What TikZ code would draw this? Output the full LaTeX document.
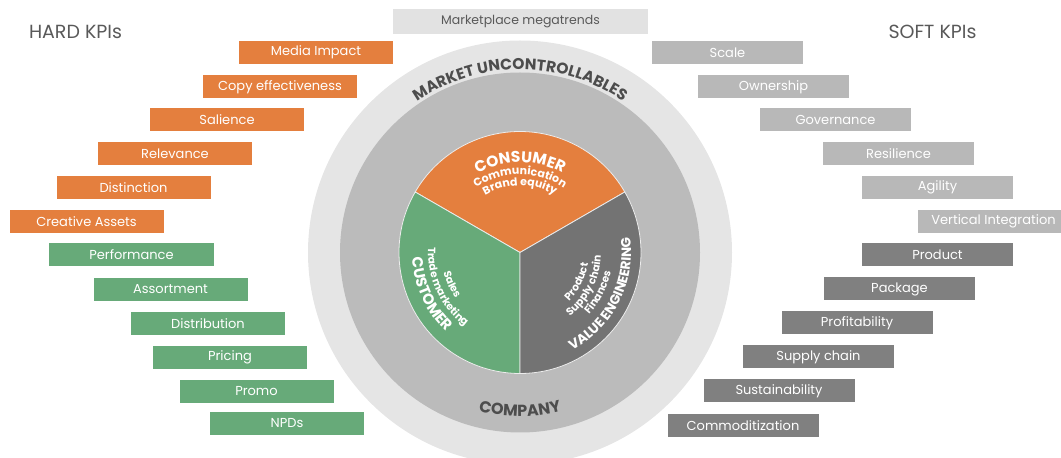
\documentclass[tikz,border=0pt]{standalone}
\usepackage{fontspec}
\setmainfont{Poppins}
\usetikzlibrary{decorations.text,calc}
\definecolor{kor}{RGB}{228,127,62}
\definecolor{kgr}{RGB}{103,170,121}
\definecolor{kdk}{RGB}{115,115,115}
\definecolor{klt}{RGB}{184,184,184}
\definecolor{kbx}{RGB}{128,128,128}
\definecolor{ringout}{RGB}{229,229,229}
\definecolor{ringmid}{RGB}{187,187,187}
\definecolor{megabox}{RGB}{226,226,226}
\definecolor{titlegray}{RGB}{89,89,89}
\definecolor{ringtext}{RGB}{77,77,77}
\begin{document}
\begin{tikzpicture}[x=1pt,y=1pt,
  kbox/.style={minimum width=154pt,minimum height=23pt,inner sep=0pt,text=white,font=\fontsize{13}{15}\selectfont},
  hard/.style={kbox,fill=kor},
  hardg/.style={kbox,fill=kgr},
  softl/.style={kbox,fill=klt,minimum width=151pt},
  softd/.style={kbox,fill=kbx,minimum width=151pt},
  ttl/.style={text=titlegray,font=\fontsize{19}{21}\selectfont,inner sep=0pt},
  sector/.style={draw=white!85!gray,line width=0.8pt},
  curved/.style={decorate,decoration={text along path,text align=center,text color=#1}}
]
\useasboundingbox (0,0) rectangle (1061,458);
\clip (0,0) rectangle (1061,458);

% titles
\node[ttl] (hard) at (75.5,426.5) {HARD KPIs};
\node[ttl] (soft) at (932.5,426) {SOFT KPIs};
\node[fill=megabox,minimum width=255pt,minimum height=25pt,inner sep=0pt,text=titlegray,font=\fontsize{12.5}{14}\selectfont] (mega) at (520.5,436.5) {Marketplace megatrends};

% circles
\coordinate (C) at (520,205.5);
\fill[ringout] (C) circle (212pt);
\fill[ringmid] (C) circle (180pt);
\path[sector,fill=kor] (C) -- ($(C)+(30:121pt)$) arc[start angle=30,end angle=150,radius=121pt] -- cycle;
\path[sector,fill=kgr] (C) -- ($(C)+(150:121pt)$) arc[start angle=150,end angle=270,radius=121pt] -- cycle;
\path[sector,fill=kdk] (C) -- ($(C)+(270:121pt)$) arc[start angle=270,end angle=390,radius=121pt] -- cycle;

% ring texts
\path[curved=ringtext,decoration={text={|\bfseries\fontsize{15.5}{16}\selectfont|MARKET UNCONTROLLABLES}}]
  ($(C)+(175:183pt)$) arc[start angle=175,end angle=5,radius=183pt];
\path[curved=ringtext,decoration={text={|\bfseries\fontsize{16}{17}\selectfont|COMPANY}}]
  ($(C)+(200:164pt)$) arc[start angle=200,end angle=340,radius=164pt];

% consumer
\path[curved=white,decoration={text={|\bfseries\fontsize{15.5}{16}\selectfont|CONSUMER}}]
  ($(C)+(160:90pt)$) arc[start angle=160,end angle=20,radius=90pt];
\path[curved=white,decoration={text={|\bfseries\fontsize{11}{12}\selectfont|Communication}}]
  ($(C)+(160:78pt)$) arc[start angle=160,end angle=20,radius=78pt];
\path[curved=white,decoration={text={|\bfseries\fontsize{11}{12}\selectfont|Brand equity}}]
  ($(C)+(160:67pt)$) arc[start angle=160,end angle=20,radius=67pt];

% customer
\path[curved=white,decoration={text={|\bfseries\fontsize{10.5}{12}\selectfont|Sales}}]
  ($(C)+(145:79pt)$) arc[start angle=145,end angle=265,radius=79pt];
\path[curved=white,decoration={text={|\bfseries\fontsize{10.5}{12}\selectfont|Trade marketing}}]
  ($(C)+(145:92pt)$) arc[start angle=145,end angle=265,radius=92pt];
\path[curved=white,decoration={text={|\bfseries\fontsize{15}{16}\selectfont|CUSTOMER}}]
  ($(C)+(145:108pt)$) arc[start angle=145,end angle=265,radius=108pt];

% value engineering
\path[curved=white,decoration={text={|\bfseries\fontsize{10.5}{12}\selectfont|Product}}]
  ($(C)+(273:69pt)$) arc[start angle=273,end angle=393,radius=69pt];
\path[curved=white,decoration={text={|\bfseries\fontsize{10.5}{12}\selectfont|Supply chain}}]
  ($(C)+(273:81pt)$) arc[start angle=273,end angle=393,radius=81pt];
\path[curved=white,decoration={text={|\bfseries\fontsize{10.5}{12}\selectfont|Finances}}]
  ($(C)+(273:93pt)$) arc[start angle=273,end angle=393,radius=93pt];
\path[curved=white,decoration={text={|\bfseries\fontsize{13.5}{15}\selectfont|VALUE ENGINEERING}}]
  ($(C)+(273:111pt)$) arc[start angle=273,end angle=393,radius=111pt];

% hard KPIs
\node[hard] (h1) at (316,405.5) {Media Impact};
\node[hard] (h2) at (280,371) {Copy effectiveness};
\node[hard] (h3) at (227,338.5) {Salience};
\node[hard] (h4) at (175,304.5) {Relevance};
\node[hard] (h5) at (133.5,270.5) {Distinction};
\node[hard] (h6) at (86.5,236.5) {Creative Assets};
\node[hardg,minimum width=165pt] (h7) at (131.5,203) {Performance};
\node[hardg] (h8) at (170.5,168.5) {Assortment};
\node[hardg] (h9) at (208,134.5) {Distribution};
\node[hardg] (h10) at (230,100.5) {Pricing};
\node[hardg] (h11) at (256.5,66.5) {Promo};
\node[hardg] (h12) at (287,34.5) {NPDs};

% soft KPIs
\node[softl] (s1) at (727.5,405.5) {Scale};
\node[softl] (s2) at (773.5,371) {Ownership};
\node[softl] (s3) at (835.5,338.5) {Governance};
\node[softl] (s4) at (898.5,304.5) {Resilience};
\node[softl] (s5) at (937.5,270.5) {Agility};
\node[softl] (s6) at (993.5,236.5) {Vertical Integration};
\node[softd] (s7) at (937.5,203.5) {Product};
\node[softd] (s8) at (899.5,169) {Package};
\node[softd] (s9) at (857,135) {Profitability};
\node[softd] (s10) at (818.5,101) {Supply chain};
\node[softd] (s11) at (779,67) {Sustainability};
\node[softd] (s12) at (743,32.5) {Commoditization};
\end{tikzpicture}
\end{document}
